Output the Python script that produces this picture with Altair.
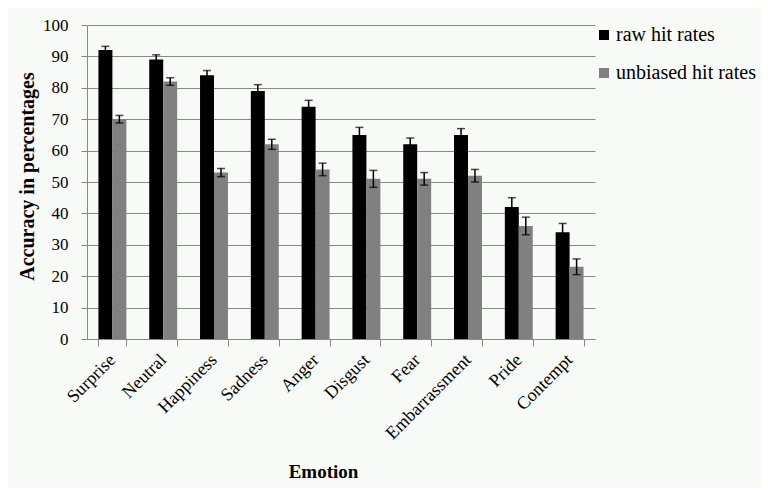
import altair as alt
import pandas as pd

emotions = ["Surprise", "Neutral", "Happiness", "Sadness", "Anger", "Disgust",
            "Fear", "Embarrassment", "Pride", "Contempt"]
series = ["raw hit rates", "unbiased hit rates"]
raw_vals = [92, 89, 84, 79, 74, 65, 62, 65, 42, 34]
raw_err = [1.2, 1.5, 1.5, 2.0, 2.0, 2.4, 2.0, 2.0, 3.0, 2.8]
unb_vals = [70, 82, 53, 62, 54, 51, 51, 52, 36, 23]
unb_err = [1.2, 1.2, 1.3, 1.6, 2.0, 2.7, 2.0, 2.0, 2.8, 2.5]
colors = ["#000000", "#808080"]
y_ticks = list(range(0, 101, 10))

rows = []
for i, e in enumerate(emotions):
    rows.append({"emotion": e, "series": series[0], "value": raw_vals[i], "err": raw_err[i]})
    rows.append({"emotion": e, "series": series[1], "value": unb_vals[i], "err": unb_err[i]})
df = pd.DataFrame(rows)

FONT = "Liberation Serif"
GRID = "#898989"
YTITLE = "Accuracy  in  percentages"

x_enc = alt.X(
    "emotion:N", sort=emotions,
    scale=alt.Scale(paddingInner=0.45, paddingOuter=0.225),
    axis=alt.Axis(
        title="Emotion", titleX=236, titleY=132, titleAnchor="middle",
        titleBaseline="middle", titleAlign="center",
        labelAngle=-45, labelAlign="right", labelBaseline="middle", labelPadding=11,
        labelFontSize=18, tickSize=7, tickBand="extent", grid=False,
    ),
)
xo_enc = alt.XOffset("series:N", sort=series)

y_axis = alt.Axis(
    title=YTITLE, titleX=-60, titleY=151, titleAngle=-90,
    titleAlign="center", titleBaseline="middle", titleFontSize=20,
    values=y_ticks, labelPadding=13, tickSize=6, labelFontSize=17,
    grid=True, labelOverlap=False,
)
y_scale = alt.Scale(domain=[0, 100], nice=False)

base = alt.Chart(df).encode(x=x_enc, xOffset=xo_enc)

bars = base.mark_bar().encode(
    y=alt.Y("value:Q", scale=y_scale, axis=y_axis),
    color=alt.Color(
        "series:N", sort=series,
        scale=alt.Scale(domain=series, range=colors),
        legend=alt.Legend(
            title=None, orient="none", legendX=507, legendY=0,
            symbolType="square", symbolSize=100, symbolStrokeWidth=0,
            labelOffset=2, rowPadding=18,
        ),
    ),
)

err = base.transform_calculate(
    lo="datum.value - datum.err", hi="datum.value + datum.err"
)
rules = err.mark_rule(color="black", strokeWidth=1.5).encode(
    y=alt.Y("lo:Q", scale=y_scale, axis=y_axis), y2="hi:Q"
)
cap_hi = err.mark_tick(color="black", size=8, thickness=1.5, orient="horizontal").encode(
    y=alt.Y("hi:Q", scale=y_scale, axis=y_axis)
)
cap_lo = err.mark_tick(color="black", size=8, thickness=1.5, orient="horizontal").encode(
    y=alt.Y("lo:Q", scale=y_scale, axis=y_axis)
)

chart = alt.layer(bars, rules, cap_hi, cap_lo).properties(
    width=508, height=314,
    autosize=alt.AutoSizeParams(type="none"),
    padding={"left": 79, "top": 17, "right": 166, "bottom": 150},
    background="#f8faf8",
).configure_view(
    strokeWidth=0
).configure_axis(
    labelFont=FONT, labelColor="black",
    titleFont=FONT, titleFontSize=19, titleFontWeight="bold", titleColor="black",
    domainColor=GRID, tickColor=GRID, gridColor=GRID, gridOpacity=1, gridWidth=1,
).configure_legend(
    labelFont=FONT, labelFontSize=20, labelColor="black",
)

chart.save("out.html", embed_options={"renderer": "svg", "actions": False})
